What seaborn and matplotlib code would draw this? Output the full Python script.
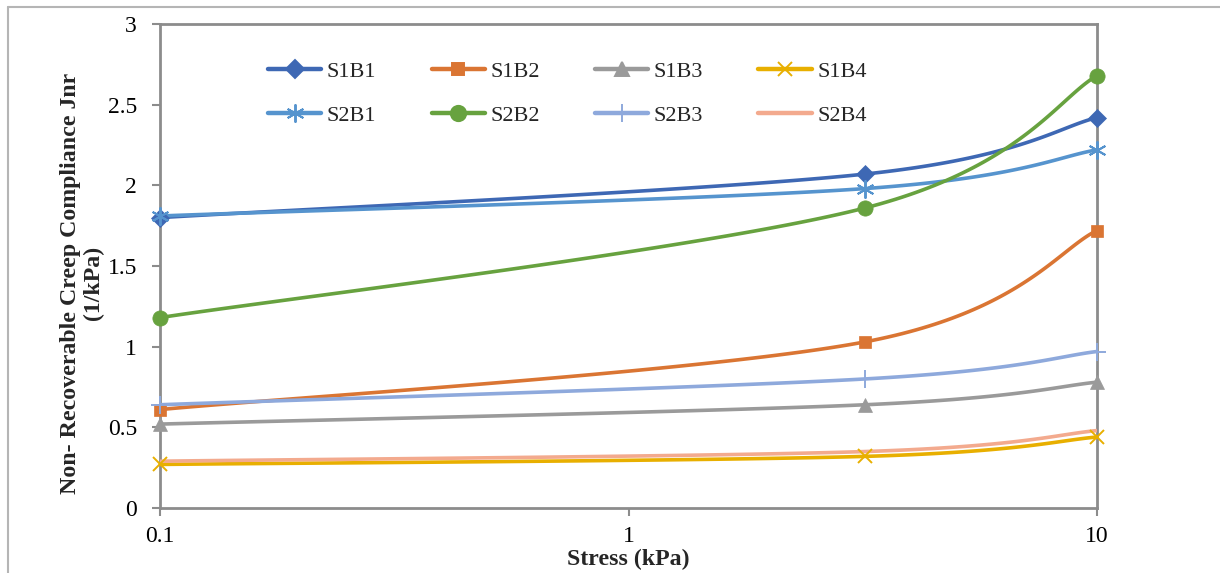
import numpy as np
import pandas as pd
import matplotlib
matplotlib.use("Agg")
import matplotlib.pyplot as plt
from matplotlib.lines import Line2D
import seaborn as sns

# ---------------- data ----------------
stress = [0.1, 3.2, 10]
series_names = ["S1B1", "S1B2", "S1B3", "S1B4", "S2B1", "S2B2", "S2B3", "S2B4"]
S1B1 = [1.80, 2.07, 2.42]
S1B2 = [0.61, 1.03, 1.72]
S1B3 = [0.52, 0.64, 0.78]
S1B4 = [0.27, 0.32, 0.44]
S2B1 = [1.81, 1.98, 2.22]
S2B2 = [1.18, 1.86, 2.68]
S2B3 = [0.64, 0.80, 0.97]
S2B4 = [0.29, 0.35, 0.48]
values = [S1B1, S1B2, S1B3, S1B4, S2B1, S2B2, S2B3, S2B4]
y_ticks = [0, 0.5, 1, 1.5, 2, 2.5, 3]
y_tick_labels = ["0", "0.5", "1", "1.5", "2", "2.5", "3"]
x_ticks = [0.1, 1, 10]
x_tick_labels = ["0.1", "1", "10"]

colors = ["#3E68B4", "#DA7533", "#9A9A9A", "#E8AF00",
          "#5694CE", "#67A23F", "#8EA9DC", "#F3AA8E"]
markers = ["D", "s", "^", "x", (6, 2, 0), "o", "+", None]
msizes = [9, 9, 10, 10, 13, 11, 13, 0]

FS_TICK = 17
FS_LEG = 16
FS_LAB = 17.2

sns.set_theme(style="white")
plt.rcParams["font.family"] = ["Liberation Serif", "DejaVu Serif"]

W, H = 1220, 573
fig = plt.figure(figsize=(W / 100, H / 100), dpi=100)
ax = fig.add_axes([160 / W, 1 - 508 / H, (1097 - 160) / W, (508 - 24) / H])
ax.set_xscale("log")
ax.set_xlim(0.1, 10)
ax.set_ylim(0, 3)

# pixel scale for Excel-like smoothing
PX = (1097 - 160) / 2.0   # px per decade
PY = (508 - 24) / 3.0     # px per unit


def smooth(xs, ys, n=60):
    X = np.log10(np.array(xs)) * PX
    Y = np.array(ys) * PY
    P = np.column_stack([X, Y])
    out = []
    m = len(P)
    for i in range(m - 1):
        p0 = P[i - 1] if i > 0 else P[i]
        p1 = P[i]
        p2 = P[i + 1]
        p3 = P[i + 2] if i + 2 < m else P[i + 1]
        c1 = p1 + (p2 - p0) / 6.0
        c2 = p2 - (p3 - p1) / 6.0
        t = np.linspace(0, 1, n)[:, None]
        seg = ((1 - t) ** 3) * p1 + 3 * ((1 - t) ** 2) * t * c1 + 3 * (1 - t) * t ** 2 * c2 + t ** 3 * p2
        if i > 0:
            seg = seg[1:]
        out.append(seg)
    S = np.vstack(out)
    return 10 ** (S[:, 0] / PX), S[:, 1] / PY


handles = []
for i in range(8):
    sx, sy = smooth(stress, values[i])
    df = pd.DataFrame({"x": sx, "y": sy})
    sns.lineplot(data=df, x="x", y="y", ax=ax, color=colors[i], lw=2.6,
                 sort=False, estimator=None, legend=False, zorder=3)
    if markers[i] is not None:
        mdf = pd.DataFrame({"x": stress, "y": values[i]})
        mk = markers[i]
        thin = mk in ("x", "+") or isinstance(mk, tuple)
        ax.plot(mdf["x"], mdf["y"], linestyle="none", marker=mk, ms=msizes[i],
                color=colors[i], mec=colors[i], mew=1.4 if thin else 0.5,
                zorder=4, clip_on=False)
    handles.append(Line2D([0], [0], color=colors[i], lw=3.2,
                          marker=markers[i] if markers[i] is not None else None,
                          ms=msizes[i], mec=colors[i], mew=1.4))

# legend is filled column by column: interleave so rows read S1.. / S2..
leg_order = [0, 4, 1, 5, 2, 6, 3, 7]
leg_handles = [handles[k] for k in leg_order]
leg_labels = [series_names[k] for k in leg_order]

ax.set_yticks(y_ticks)
ax.set_yticklabels(y_tick_labels)
ax.set_xticks(x_ticks)
ax.set_xticklabels(x_tick_labels)
ax.xaxis.set_minor_locator(matplotlib.ticker.NullLocator())
ax.tick_params(axis="both", which="major", direction="out", length=6, width=1.5,
               color="#8C8C8C", labelsize=FS_TICK, labelcolor="black",
               left=True, bottom=True)
ax.tick_params(axis="y", pad=10.5)
ax.tick_params(axis="x", pad=7)
for s in ax.spines.values():
    s.set_visible(True)
    s.set_color("#8C8C8C")
    s.set_linewidth(2.0)
ax.grid(False)
ax.set_xlabel("")
ax.set_ylabel("")

fig.text(628 / W, 1 - 559 / H, "Stress (kPa)", ha="center", va="center",
         fontsize=FS_LAB, fontweight="bold")
fig.text(82 / W, 1 - 283 / H, "Non- Recoverable Creep Compliance Jnr\n(1/kPa)",
         ha="center", va="center", rotation=90, fontsize=FS_LAB, fontweight="bold",
         multialignment="center", linespacing=1.1)

leg = fig.legend(leg_handles, leg_labels, ncol=4, loc="upper left",
                 bbox_to_anchor=(268 / W, 1 - 61 / H), frameon=False,
                 fontsize=FS_LEG, handlelength=2.4, handletextpad=0.25,
                 columnspacing=2.48, labelspacing=1.08, borderpad=0,
                 borderaxespad=0)

# chart-area border
fig.add_artist(Line2D([8 / W, 1], [1 - 7 / H, 1 - 7 / H], color="#B5B5B5", lw=1.5,
                      transform=fig.transFigure))
fig.add_artist(Line2D([8 / W, 8 / W], [0, 1 - 7 / H], color="#B5B5B5", lw=1.5,
                      transform=fig.transFigure))

fig.savefig("out.png", dpi=100)
